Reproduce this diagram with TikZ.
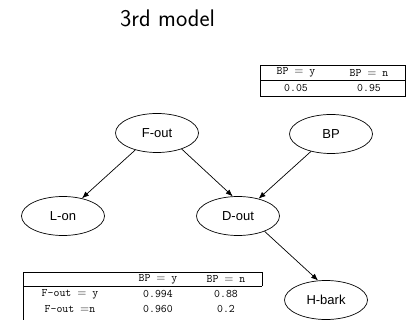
\documentclass[tikz,border=0pt]{standalone}
\usepackage{fontspec}
\newfontfamily\labelfont{Liberation Sans}
\usetikzlibrary{shapes.geometric,arrows.meta}
\tikzset{
  var/.style={ellipse, draw, line width=0.7pt, minimum width=83pt, minimum height=39pt,
    inner sep=0pt, font=\labelfont\fontsize{13}{15}\selectfont},
  edge/.style={draw, line width=0.7pt, -{Latex[length=7pt,width=5.5pt]}},
  cpt/.style={font=\ttfamily\fontsize{11.5}{13}\selectfont, inner sep=0pt, anchor=center},
  rule/.style={line width=0.7pt}
}
\begin{document}
\begin{tikzpicture}[x=1pt,y=-1pt]
\useasboundingbox (0,0) rectangle (409,320);

% title
\node[font=\sffamily\fontsize{24}{28}\selectfont, inner sep=0pt] (title) at (167.5,18.5) {3rd model};

% variables
\node[var] (fout)  at (157,133) {F-out};
\node[var] (bp)    at (331,134) {BP};
\node[var] (lon)   at (63,216)  {L-on};
\node[var] (dout)  at (238,216) {D-out};
\node[var] (hbark) at (326,300) {H-bark};

% dependencies
\draw[edge] (fout.218) -- (lon.43);
\draw[edge] (fout.-33) -- (dout.105);
\draw[edge] (bp.221)   -- (dout.40);
\draw[edge] (dout.-30) -- (hbark.112);

% prior of BP
\coordinate (pa) at (260,65);
\coordinate (pb) at (405,96);
\draw[rule] (pa) rectangle (pb);
\draw[rule] (260,80) -- (405,80);
\node[cpt] (ph1) at (296,72.5) {BP $=$ y};
\node[cpt] (ph2) at (369,72.5) {BP $=$ n};
\node[cpt] (pv1) at (296,88)   {0.05};
\node[cpt] (pv2) at (369,88)   {0.95};

% conditional table of D-out: header cell closed on the right, body open
\draw[rule] (23,320) -- (23,272) -- (262,272) -- (262,286);
\draw[rule] (23,286) -- (262,286);
\node[cpt] (ch1) at (158,279) {BP $=$ y};
\node[cpt] (ch2) at (226,279) {BP $=$ n};
\node[cpt] (r1)  at (70,294)  {F-out $=$ y};
\node[cpt] (r2)  at (70,309)  {F-out $=$n};
\node[cpt] (v11) at (158,294) {0.994};
\node[cpt] (v12) at (226,294) {0.88};
\node[cpt] (v21) at (158,309) {0.960};
\node[cpt] (v22) at (226,309) {0.2};
\end{tikzpicture}
\end{document}
